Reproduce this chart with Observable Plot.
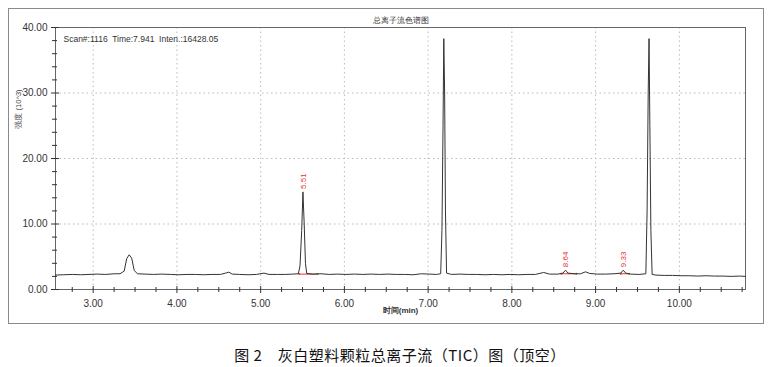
<!DOCTYPE html>
<html>
<head>
<meta charset="utf-8">
<script src="https://cdn.jsdelivr.net/npm/d3@7"></script>
<script src="https://cdn.jsdelivr.net/npm/@observablehq/plot@0.6"></script>
<style>
  body { margin: 0; background: #fff; }
  #wrap { position: relative; width: 772px; height: 367px; font-family: "Liberation Sans", Arial, "Noto Sans CJK SC", sans-serif; }
  #box { position: absolute; left: 8px; top: 8px; width: 754px; height: 314px; border: 1px solid #8a8a8a; }
  #chart { position: absolute; left: 0; top: 0; }
  #caption { position: absolute; left: 0; width: 800px; top: 344px; text-align: center; font-family: "Noto Sans CJK SC", serif; font-size: 15px; color: #111; letter-spacing: 0.5px; }
</style>
</head>
<body>
<div id="wrap">
  <div id="box"></div>
  <div id="chart"></div>
  <div id="caption">图 2&nbsp;&nbsp;&nbsp;&nbsp;灰白塑料颗粒总离子流（TIC）图（顶空）</div>
</div>
<script>
// TIC trace: retention time (min) and intensity (10^3)
const times = [
  2.55, 2.65, 2.75, 2.85, 2.95, 3.05, 3.15, 3.25, 3.32, 3.37, 3.40, 3.43, 3.46, 3.49, 3.53,
  3.62, 3.72, 3.82, 3.92, 4.02, 4.12, 4.22, 4.32, 4.42, 4.52, 4.58, 4.62, 4.66, 4.75, 4.85,
  4.95, 5.04, 5.10, 5.20, 5.30, 5.38, 5.45, 5.47, 5.49, 5.505, 5.52, 5.535, 5.55, 5.62, 5.72,
  5.82, 5.92, 6.02, 6.12, 6.22, 6.32, 6.42, 6.52, 6.62, 6.72, 6.82, 6.92, 7.02, 7.10, 7.15,
  7.165, 7.178, 7.187, 7.197, 7.207, 7.22, 7.28, 7.38, 7.48, 7.58, 7.68, 7.78, 7.88, 7.98, 8.08,
  8.18, 8.28, 8.38, 8.45, 8.55, 8.61, 8.64, 8.67, 8.75, 8.82, 8.88, 8.93, 9.02, 9.12, 9.22,
  9.30, 9.33, 9.36, 9.42, 9.52, 9.60, 9.615, 9.628, 9.638, 9.648, 9.66, 9.675, 9.72, 9.82, 9.92,
  10.02, 10.12, 10.22, 10.32, 10.42, 10.52, 10.62, 10.72, 10.79
];
const intensity = [
  2.2, 2.25, 2.3, 2.25, 2.3, 2.35, 2.3, 2.4, 2.4, 2.8, 4.7, 5.3, 4.8, 2.9, 2.4,
  2.35, 2.3, 2.35, 2.3, 2.25, 2.3, 2.3, 2.25, 2.3, 2.3, 2.5, 2.65, 2.35, 2.3, 2.25,
  2.3, 2.5, 2.3, 2.3, 2.3, 2.35, 2.4, 3.6, 9.0, 14.9, 10.0, 4.0, 2.45, 2.35, 2.4,
  2.3, 2.35, 2.3, 2.35, 2.3, 2.35, 2.3, 2.35, 2.3, 2.3, 2.25, 2.4, 2.35, 2.3, 2.4,
  9.0, 25.0, 38.3, 30.0, 12.0, 2.5, 2.3, 2.35, 2.3, 2.3, 2.25, 2.3, 2.25, 2.3, 2.25,
  2.3, 2.3, 2.6, 2.35, 2.35, 2.5, 2.95, 2.5, 2.4, 2.4, 2.7, 2.45, 2.35, 2.35, 2.4,
  2.5, 2.95, 2.5, 2.35, 2.3, 2.4, 12.0, 30.0, 38.3, 25.0, 9.0, 2.3, 2.2, 2.15, 2.15,
  2.1, 2.1, 2.05, 2.1, 2.05, 2.05, 2.0, 2.05, 2.0
];
// integrated peaks (labels + baseline segment)
const peakLabels = ["5.51", "8.64", "9.33"];
const peakTimes = [5.51, 8.64, 9.33];
const peakTops = [14.9, 2.95, 2.95];
const peakStart = [5.46, 8.59, 9.30];
const peakEnd = [5.68, 8.77, 9.40];
const peakBase = [2.35, 2.4, 2.4];

const xMajor = [3, 4, 5, 6, 7, 8, 9, 10];
const yMajor = [0, 10, 20, 30, 40];

const trace = times.map((t, i) => ({t, v: intensity[i]}));
const peaks = peakLabels.map((l, i) => ({label: l, t: peakTimes[i], top: peakTops[i], s: peakStart[i], e: peakEnd[i], b: peakBase[i]}));
const xMinor = d3.range(11, 44).map(k => k / 4).filter(v => !xMajor.includes(v) && v <= 10.79);
const yMinor = d3.range(2, 40, 2).filter(v => !yMajor.includes(v));
const blank = () => "";

const plot = Plot.plot({
  width: 772,
  height: 330,
  marginLeft: 55,
  marginRight: 27,
  marginTop: 27,
  marginBottom: 41,
  style: {fontFamily: "Liberation Sans, Arial, sans-serif", fontSize: "10px", color: "#333", background: "transparent"},
  x: {domain: [2.55, 10.79]},
  y: {domain: [0, 40]},
  marks: [
    Plot.gridX(xMajor, {stroke: "#bbb", strokeOpacity: 1, strokeDasharray: "1.5,3"}),
    Plot.gridY([10, 20, 30], {stroke: "#bbb", strokeOpacity: 1, strokeDasharray: "1.5,3"}),
    Plot.frame({stroke: "#666"}),
    Plot.axisX({ticks: xMajor, tickSize: 4, tickFormat: d3.format(".2f"), tickPadding: 6, label: null, fill: "#333"}),
    Plot.axisX({ticks: xMajor, tickSize: -3, tickFormat: blank, label: null}),
    Plot.axisX({ticks: xMinor, tickSize: 3, tickFormat: blank, label: null}),
    Plot.axisX({ticks: xMinor, tickSize: -2, tickFormat: blank, label: null}),
    Plot.axisY({ticks: yMajor, tickSize: 4, tickFormat: d3.format(".2f"), tickPadding: 4, label: null, fill: "#333"}),
    Plot.axisY({ticks: yMajor, tickSize: -4, tickFormat: blank, label: null}),
    Plot.axisY({ticks: yMinor, tickSize: 3, tickFormat: blank, label: null}),
    Plot.axisY({ticks: yMinor, tickSize: -2, tickFormat: blank, label: null}),
    Plot.link(peaks, {x1: "s", x2: "e", y1: "b", y2: "b", stroke: "#e53333", strokeWidth: 1}),
    Plot.dot(peaks, {x: "e", y: "b", r: 1, fill: "#3a3", stroke: null}),
    Plot.dot(peaks, {x: "s", y: "b", r: 1, fill: "#e53333", stroke: null}),
    Plot.line(trace, {x: "t", y: "v", stroke: "#333", strokeWidth: 1}),
    Plot.text(peaks, {x: "t", y: "top", text: "label", rotate: -90, textAnchor: "start", dy: -3, fill: "#e53333", fontSize: 8}),
    Plot.text(["总离子流色谱图"], {frameAnchor: "top", dy: -10, fontSize: 8, fill: "#333"}),
    Plot.text(["Scan#:1116  Time:7.941  Inten.:16428.05"], {frameAnchor: "top-left", dx: 8, dy: 8, textAnchor: "start", fontSize: 8.5, fill: "#333"}),
    Plot.text(["强度 (10^3)"], {frameAnchor: "left", dx: -37, dy: -30, rotate: -90, fontSize: 7.5, fill: "#444"}),
    Plot.text(["时间(min)"], {frameAnchor: "bottom", dy: 23, fontSize: 8, fill: "#333", fontWeight: "bold"})
  ]
});
document.getElementById("chart").appendChild(plot);
</script>
</body>
</html>
